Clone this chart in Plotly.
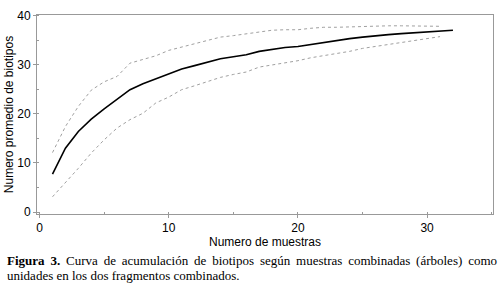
import plotly.graph_objects as go

muestras = list(range(1, 33))
media = [7.7, 13.0, 16.4, 18.9, 21.0, 22.9, 24.9, 26.1, 27.1, 28.2,
         29.1, 29.8, 30.5, 31.2, 31.6, 32.0, 32.7, 33.1, 33.5, 33.7,
         34.1, 34.5, 35.0, 35.3, 35.6, 35.9, 36.1, 36.3, 36.5, 36.7,
         36.8, 37.0]
muestras_ic = list(range(1, 32))
superior = [12.1, 17.4, 21.5, 24.8, 26.5, 27.6, 30.3, 31.0, 31.8, 32.9,
            33.6, 34.2, 35.0, 35.6, 35.9, 36.3, 36.7, 37.0, 37.1, 37.1,
            37.4, 37.6, 37.6, 37.7, 37.8, 37.9, 37.9, 37.9, 37.9, 37.8,
            37.8]
inferior = [3.1, 5.9, 8.9, 12.0, 14.7, 17.1, 18.8, 20.1, 22.2, 23.4,
            24.9, 25.7, 26.6, 27.4, 28.0, 28.5, 29.5, 29.9, 30.3, 30.8,
            31.4, 31.8, 32.2, 32.7, 33.3, 33.7, 34.2, 34.5, 34.9, 35.3,
            35.7]

fig = go.Figure()
fig.add_trace(go.Scatter(x=muestras_ic, y=superior, mode="lines",
                         line=dict(color="#a0a0a0", width=1, dash="dot")))
fig.add_trace(go.Scatter(x=muestras_ic, y=inferior, mode="lines",
                         line=dict(color="#a0a0a0", width=1, dash="dot")))
fig.add_trace(go.Scatter(x=muestras, y=media, mode="lines",
                         line=dict(color="black", width=1.6)))

axis_common = dict(showline=True, linecolor="#999999", linewidth=1, mirror=True,
                   showgrid=False, zeroline=False, ticks="outside", ticklen=3,
                   tickcolor="#999999", automargin=False,
                   minor=dict(dtick=5, ticks="inside", ticklen=2, tickcolor="#999999"),
                   tickfont=dict(family="Liberation Sans, Arial", size=12, color="black"))

fig.update_xaxes(range=[-0.2, 35.1], dtick=10, tick0=0,
                 title=dict(text="Numero de muestras", standoff=1,
                            font=dict(family="Liberation Sans, Arial", size=12, color="black")),
                 **axis_common)
fig.update_yaxes(range=[-0.4, 40.1], dtick=10, tick0=0,
                 title=dict(text="Numero promedio de biotipos", standoff=1,
                            font=dict(family="Liberation Sans, Arial", size=12, color="black")),
                 **axis_common)

sp = " \u2009"
linea1 = sp.join(["<b>Figura", "3.</b>", "Curva", "de", "acumulación", "de", "biotipos",
                  "según", "muestras", "combinadas", "(árboles)", "como"])
fig.add_annotation(xref="paper", yref="paper", x=-0.07, y=-0.236, xanchor="left", yanchor="middle",
                   showarrow=False, align="left", text=linea1,
                   font=dict(family="Liberation Serif, Times New Roman", size=13, color="black"))
fig.add_annotation(xref="paper", yref="paper", x=-0.07, y=-0.307, xanchor="left", yanchor="middle",
                   showarrow=False, align="left",
                   text="unidades en los dos fragmentos combinados.",
                   font=dict(family="Liberation Serif, Times New Roman", size=13, color="black"))

fig.update_layout(width=500, height=285, showlegend=False,
                  margin=dict(l=37, r=7, t=15, b=71),
                  plot_bgcolor="white", paper_bgcolor="white")
fig.write_html("out.html", config={"displayModeBar": False},
               post_script="document.body.style.margin='0';")
